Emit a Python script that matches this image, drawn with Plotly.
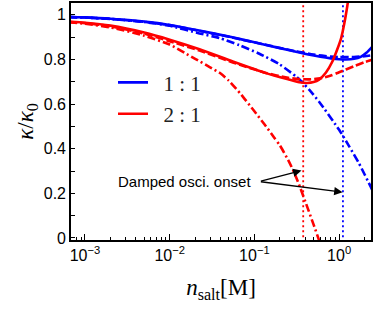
import numpy as np
import plotly.graph_objects as go

# ---------------- data ----------------
# 1:1 salt
n_b_solid = [6.5e-4, 1e-3, 2e-3, 5e-3, 1e-2, 2e-2, 5e-2, 0.1, 0.2, 0.3, 0.45, 0.6, 0.8, 1.0, 1.2, 1.5, 1.8, 2.1, 2.5]
k_b_solid = [0.991, 0.989, 0.983, 0.970, 0.955, 0.933, 0.903, 0.877, 0.851, 0.836, 0.821, 0.812, 0.805, 0.801, 0.800, 0.803, 0.812, 0.830, 0.860]

n_b_dash = [6.5e-4, 1e-3, 2e-3, 5e-3, 1e-2, 2e-2, 5e-2, 0.1, 0.2, 0.3, 0.5, 0.8, 1.0, 1.5, 2.0, 2.5]
k_b_dash = [0.990, 0.988, 0.982, 0.969, 0.954, 0.932, 0.902, 0.877, 0.852, 0.838, 0.822, 0.813, 0.811, 0.811, 0.815, 0.820]

n_b_dd = [6.5e-4, 1e-3, 2e-3, 5e-3, 1e-2, 0.0225, 0.0387, 0.0666, 0.1145, 0.197, 0.31, 0.367, 0.443, 0.58, 1.0, 1.31, 1.72, 2.36, 2.5]
k_b_dd = [0.990, 0.988, 0.982, 0.968, 0.951, 0.917, 0.896, 0.864, 0.826, 0.779, 0.724, 0.698, 0.665, 0.611, 0.485, 0.412, 0.334, 0.230, 0.210]

# 2:1 salt
n_r_solid = [6.5e-4, 1e-3, 2e-3, 5e-3, 1e-2, 0.0225, 0.0556, 0.137, 0.25, 0.338, 0.42, 0.5, 0.58, 0.7, 0.83, 0.95, 1.056, 1.15, 1.25, 1.35]
k_r_solid = [0.970, 0.965, 0.952, 0.921, 0.889, 0.846, 0.791, 0.739, 0.711, 0.698, 0.695, 0.699, 0.710, 0.742, 0.790, 0.845, 0.895, 0.960, 1.040, 1.130]

n_r_dash = [6.5e-4, 1e-3, 2e-3, 5e-3, 1e-2, 0.0225, 0.0556, 0.137, 0.25, 0.338, 0.45, 0.6, 0.8, 1.0, 1.5, 2.0, 2.5]
k_r_dash = [0.968, 0.963, 0.949, 0.916, 0.882, 0.840, 0.787, 0.740, 0.718, 0.712, 0.711, 0.716, 0.728, 0.743, 0.770, 0.788, 0.800]

n_r_dd = [6.5e-4, 1e-3, 2e-3, 5e-3, 1e-2, 0.015, 0.02, 0.03, 0.04, 0.05, 0.07, 0.1, 0.13, 0.17, 0.2, 0.25, 0.3, 0.35, 0.4, 0.5, 0.58]
k_r_dd = [0.967, 0.960, 0.944, 0.907, 0.867, 0.830, 0.803, 0.765, 0.737, 0.705, 0.642, 0.568, 0.512, 0.452, 0.415, 0.350, 0.287, 0.222, 0.162, 0.060, -0.010]

# damped oscillation onsets
onset_11 = 1.11
onset_21 = 0.377

legend_names = ["1 : 1", "2 : 1"]
x_tickvals = [1e-3, 1e-2, 1e-1, 1e0]
x_ticktext = ["10<sup>\u22123</sup>", "10<sup>\u22122</sup>", "10<sup>\u22121</sup>", "10<sup>0</sup>"]
y_tickvals = [0, 0.2, 0.4, 0.6, 0.8, 1.0]
y_ticktext = ["0", "0.2", "0.4", "0.6", "0.8", "1"]
y_minor_vals = [0.1, 0.3, 0.5, 0.7, 0.9]

annot_text = "Damped osci. onset"
arrow_tail = (0.1145, 0.253)
arrow_heads = [(0.36, 0.302), (1.10, 0.205)]
text_pos = (0.01482, 0.253)

x_range = [6.84e-4, 2.38]
y_range = [-0.009, 1.0533]

# ---------------- styling ----------------
BLUE = "rgb(0,0,255)"
RED = "rgb(255,0,0)"
DASH = "8px,3px"
DASHDOT = "8px,3px,2px,3px"
LW = 2.6

fig = go.Figure()

# vertical dotted onset lines
for xo, col in [(onset_21, RED), (onset_11, BLUE)]:
    fig.add_trace(go.Scatter(x=[xo, xo], y=[y_range[0] - 0.1, y_range[1] + 0.1], mode="lines",
                             line=dict(color=col, width=1.8, dash="2px,3px"), showlegend=False,
                             hoverinfo="skip"))

series = [
    (n_b_dd, k_b_dd, BLUE, DASHDOT, False, None),
    (n_b_dash, k_b_dash, BLUE, DASH, False, None),
    (n_b_solid, k_b_solid, BLUE, "solid", True, legend_names[0]),
    (n_r_dd, k_r_dd, RED, DASHDOT, False, None),
    (n_r_dash, k_r_dash, RED, DASH, False, None),
    (n_r_solid, k_r_solid, RED, "solid", True, legend_names[1]),
]
for xs, ys, col, dash, sl, name in series:
    fig.add_trace(go.Scatter(x=xs, y=ys, mode="lines", name="\u00a0\u00a0" + name if name else None,
                             line=dict(color=col, width=LW, dash=dash, shape="spline", smoothing=0.6),
                             showlegend=sl, legendgroup=name if name else None, hoverinfo="skip"))

serif = "Liberation Serif"
sans = "Liberation Sans"

fig.update_layout(
    width=374, height=311,
    margin=dict(l=71, r=2, t=1, b=71),
    plot_bgcolor="white", paper_bgcolor="white",
    showlegend=True,
    legend=dict(x=0.14, y=0.75, xanchor="left", yanchor="top",
                bgcolor="rgba(0,0,0,0)", font=dict(family=serif, size=21, color="#222"),
                tracegroupgap=1, itemwidth=30),
    xaxis=dict(type="log", range=[np.log10(x_range[0]), np.log10(x_range[1])],
               tickvals=x_tickvals, ticktext=x_ticktext,
               ticks="inside", ticklen=6, tickwidth=1, tickcolor="black",
               minor=dict(ticks="inside", ticklen=3, tickwidth=1, tickcolor="black", dtick="D1", showgrid=False),
               showline=True, linecolor="black", linewidth=1.6, mirror=True,
               showgrid=False, zeroline=False,
               tickfont=dict(family=sans, size=16, color="black"),
               title=dict(text="<i>n</i><sub>salt</sub>[M]", font=dict(family=serif, size=23, color="black"),
                          standoff=16)),
    yaxis=dict(range=y_range, tickvals=y_tickvals, ticktext=y_ticktext,
               ticks="inside", ticklen=4, tickwidth=1, tickcolor="black",
               minor=dict(ticks="inside", ticklen=4, tickwidth=1, tickcolor="black", tickvals=y_minor_vals, showgrid=False),
               showline=True, linecolor="black", linewidth=1.6, mirror=True,
               showgrid=False, zeroline=False,
               tickfont=dict(family=sans, size=16, color="black"),
               title=dict(text="<i>\u03ba</i>/<i>\u03ba</i><sub>0</sub>", font=dict(family=serif, size=23, color="black"),
                          standoff=4)),
)

# annotation text
fig.add_annotation(x=np.log10(text_pos[0]), y=text_pos[1], xref="x", yref="y", text=annot_text,
                   showarrow=False, font=dict(family=sans, size=15, color="black"), xanchor="center", yanchor="middle")
for hx, hy in arrow_heads:
    fig.add_annotation(x=np.log10(hx), y=hy, ax=np.log10(arrow_tail[0]), ay=arrow_tail[1],
                       xref="x", yref="y", axref="x", ayref="y", text="", showarrow=True,
                       arrowhead=2, arrowsize=1.3, arrowwidth=1.3, arrowcolor="black", standoff=0, startstandoff=0)

fig.write_html("out.html", config={"displayModeBar": False},
               post_script="document.body.style.margin='0';document.body.style.overflow='hidden';")
